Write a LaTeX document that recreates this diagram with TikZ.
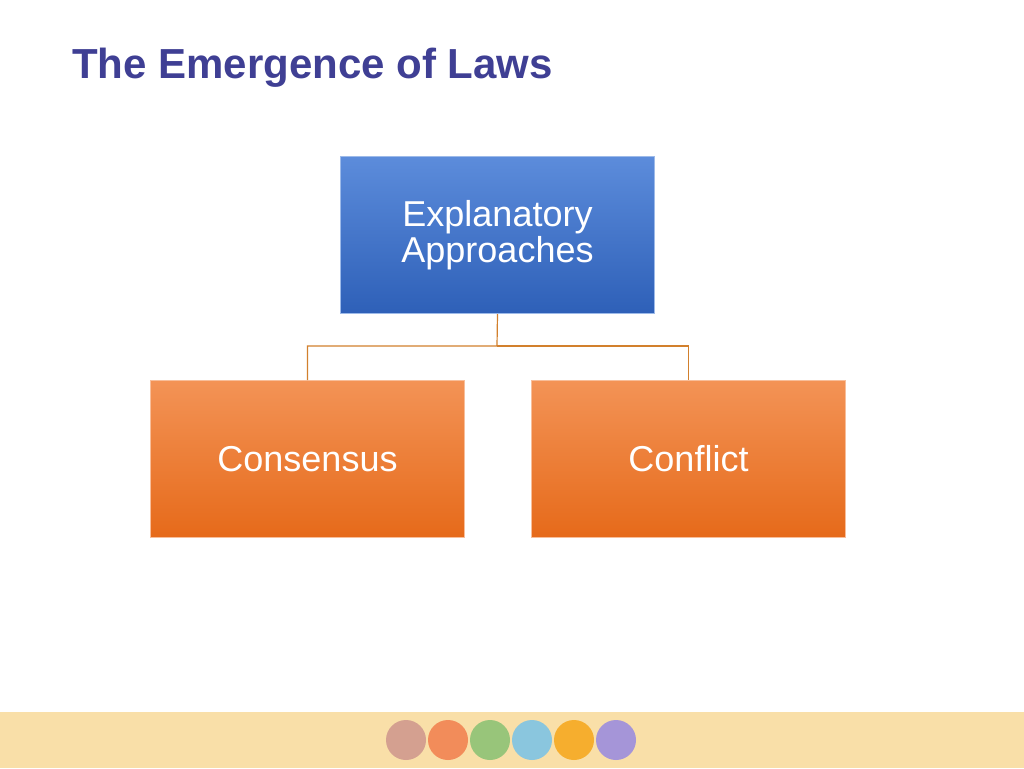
\documentclass[tikz,border=0pt]{standalone}
\usepackage{fontspec}
\setmainfont{Liberation Sans}
\begin{document}
\begin{tikzpicture}[x=1pt,y=-1pt,
  box/.style={draw=#1!60!white,line width=1pt,minimum width=314pt,minimum height=157pt,anchor=north west,inner sep=0pt,text=white,align=center,font=\fontsize{36}{40}\selectfont},
  conn/.style={draw=brown!70!orange,line width=1.2pt}]
\useasboundingbox (0,0) rectangle (1024,768);
\definecolor{tcol}{HTML}{3F3F94}
\definecolor{btop}{HTML}{5C8CDB}\definecolor{bbot}{HTML}{2E60B8}
\definecolor{otop}{HTML}{F39356}\definecolor{obot}{HTML}{E66A1A}
\definecolor{band}{HTML}{F9DFA8}
\fill[white] (0,0) rectangle (1024,768);
\node[anchor=base west,text=tcol,font=\bfseries\fontsize{42}{46}\selectfont,inner sep=0pt] (title) at (72,78) {The Emergence of Laws};
\node[box=btop,top color=btop,bottom color=bbot] (top) at (340,156) {Explanatory\\[-4pt]Approaches};
\node[box=otop,top color=otop,bottom color=obot] (l) at (150,380) {Consensus};
\node[box=otop,top color=otop,bottom color=obot] (r) at (531,380) {Conflict};
\coordinate (m) at (497,346);
\draw[conn] (top.south) -- (m) -| (l.north);
\draw[conn] (m) -| (r.north);
\fill[band] (0,712) rectangle (1024,768);
\foreach \c [count=\i] in {D4A090,F28C5A,98C57A,8AC6DE,F6AE2E,A595D8}{
  \definecolor{cc}{HTML}{\c}
  \fill[cc] (364+\i*42,740) circle (20);
}
\end{tikzpicture}
\end{document}
